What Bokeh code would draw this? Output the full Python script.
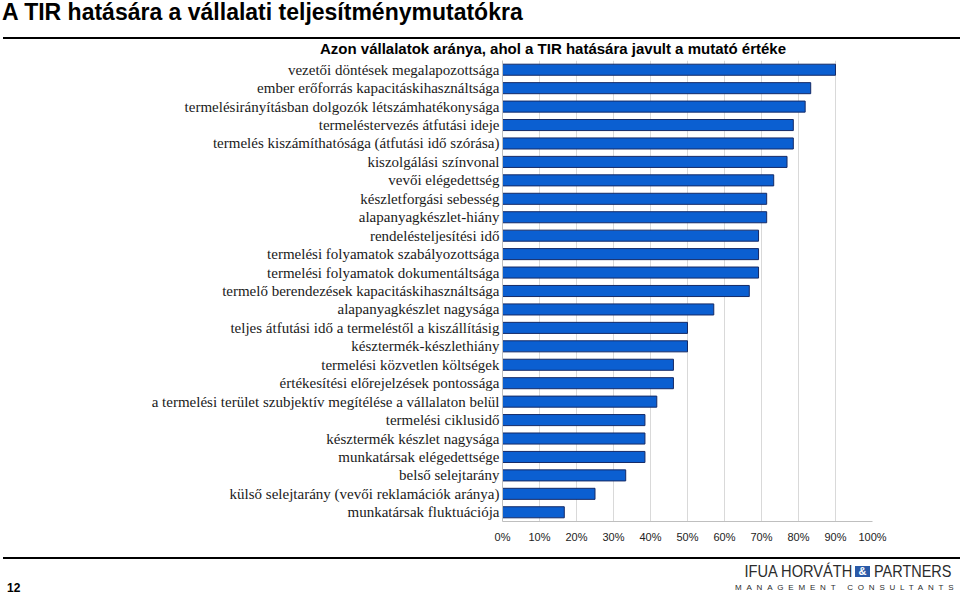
from bokeh.plotting import figure
from bokeh.models import Range1d, FactorRange, FixedTicker, NumeralTickFormatter, Div
from bokeh.layouts import column
from bokeh.embed import file_html
from bokeh.resources import INLINE

categories = [
    "vezetői döntések megalapozottsága",
    "ember erőforrás kapacitáskihasználtsága",
    "termelésirányításban dolgozók létszámhatékonysága",
    "termeléstervezés átfutási ideje",
    "termelés kiszámíthatósága (átfutási idő szórása)",
    "kiszolgálási színvonal",
    "vevői elégedettség",
    "készletforgási sebesség",
    "alapanyagkészlet-hiány",
    "rendelésteljesítési idő",
    "termelési folyamatok szabályozottsága",
    "termelési folyamatok dokumentáltsága",
    "termelő berendezések kapacitáskihasználtsága",
    "alapanyagkészlet nagysága",
    "teljes átfutási idő a termeléstől a kiszállításig",
    "késztermék-készlethiány",
    "termelési közvetlen költségek",
    "értékesítési előrejelzések pontossága",
    "a termelési terület szubjektív megítélése a vállalaton belül",
    "termelési ciklusidő",
    "késztermék készlet nagysága",
    "munkatársak elégedettsége",
    "belső selejtarány",
    "külső selejtarány (vevői reklamációk aránya)",
    "munkatársak fluktuációja",
]
shares = [
    0.900, 0.833, 0.818, 0.786, 0.786, 0.769, 0.733, 0.714, 0.714, 0.692,
    0.692, 0.692, 0.667, 0.571, 0.500, 0.500, 0.462, 0.462, 0.417, 0.385,
    0.385, 0.385, 0.333, 0.250, 0.167,
]
x_ticks = [0.0, 0.1, 0.2, 0.3, 0.4, 0.5, 0.6, 0.7, 0.8, 0.9, 1.0]

PAGE_TITLE = "A TIR hatására a vállalati teljesítménymutatókra"
CHART_TITLE = "Azon vállalatok aránya, ahol a TIR hatására javult a mutató értéke"
PAGE_NUMBER = "12"
LOGO_LEFT = "IFUA HORVÁTH"
LOGO_AMP = "&amp;"
LOGO_RIGHT = "PARTNERS"
LOGO_SUB = "MANAGEMENT CONSULTANTS"

W = 960
FONT = "'Liberation Sans', Arial, sans-serif"

# ---------- header (page title, rule, chart title) ----------
header_html = f"""
<div style="position:relative;width:960px;height:60px;font-family:{FONT};color:#000;">
  <div style="position:absolute;left:2px;top:0px;font-size:23px;line-height:24px;
              font-weight:bold;white-space:nowrap;">{PAGE_TITLE}</div>
  <div style="position:absolute;left:3px;top:36.5px;width:957px;height:2px;background:#000;"></div>
  <div style="position:absolute;left:553px;top:39.5px;transform:translateX(-50%);
              font-size:15px;line-height:17px;font-weight:bold;white-space:nowrap;">{CHART_TITLE}</div>
</div>
"""
header = Div(text=header_html, width=W, height=60, margin=0)

# ---------- main chart ----------
p = figure(width=W, height=488, y_range=FactorRange(factors=categories[::-1]),
           x_range=Range1d(0, 1), output_backend="svg", toolbar_location=None,
           min_border_left=502, min_border_right=88, min_border_top=0,
           min_border_bottom=27, outline_line_color=None, margin=0)
p.hbar(y=categories, left=0, right=shares, height=0.6,
       fill_color="#0b5fd1", line_color="#152a66", line_width=1)

p.xaxis.ticker = FixedTicker(ticks=x_ticks)
p.xaxis.formatter = NumeralTickFormatter(format="0%")
p.xaxis.major_label_text_font = "Liberation Sans"
p.xaxis.major_label_text_font_size = "11px"
p.xaxis.major_label_text_color = "#222222"
p.xaxis.major_tick_out = 0
p.xaxis.major_tick_in = 0
p.xaxis.minor_tick_out = 0
p.xaxis.minor_tick_in = 0
p.xaxis.major_label_standoff = 9
p.xaxis.axis_line_color = "#bfbfbf"

p.yaxis.major_label_text_font = "Liberation Serif"
p.yaxis.major_label_text_font_size = "15px"
p.yaxis.major_label_text_color = "#1a1a1a"
p.yaxis.major_tick_out = 0
p.yaxis.major_tick_in = 0
p.yaxis.major_label_standoff = 3
p.yaxis.axis_line_color = "#bfbfbf"

p.xgrid.ticker = FixedTicker(ticks=x_ticks)
p.xgrid.grid_line_color = "#d9d9d9"
p.ygrid.visible = False

# ---------- footer (rule, page number, logo) ----------
footer_html = f"""
<div style="position:relative;width:960px;height:47px;font-family:{FONT};color:#2b2b2b;">
  <div style="position:absolute;left:3px;top:8.5px;width:957px;height:2px;background:#000;"></div>
  <div style="position:absolute;left:7px;top:33px;font-size:12px;line-height:14px;
              font-weight:bold;color:#000;">{PAGE_NUMBER}</div>
  <div style="position:absolute;right:108px;top:14px;font-size:17px;line-height:20px;
              white-space:nowrap;transform:scaleX(0.86);transform-origin:right center;">{LOGO_LEFT}</div>
  <div style="position:absolute;left:855px;top:18px;width:15px;height:11px;background:#2a5aa8;
              color:#fff;font-size:11px;line-height:11px;font-weight:bold;text-align:center;">{LOGO_AMP}</div>
  <div style="position:absolute;left:874px;top:14px;font-size:17px;line-height:20px;
              white-space:nowrap;transform:scaleX(0.85);transform-origin:left center;">{LOGO_RIGHT}</div>
  <div style="position:absolute;left:735px;top:35px;font-size:8px;line-height:10px;
              letter-spacing:4.8px;white-space:nowrap;">{LOGO_SUB}</div>
</div>
"""
footer = Div(text=footer_html, width=W, height=47, margin=0)

layout = column(header, p, footer, spacing=0)
open("out.html", "w").write(file_html(layout, INLINE))
